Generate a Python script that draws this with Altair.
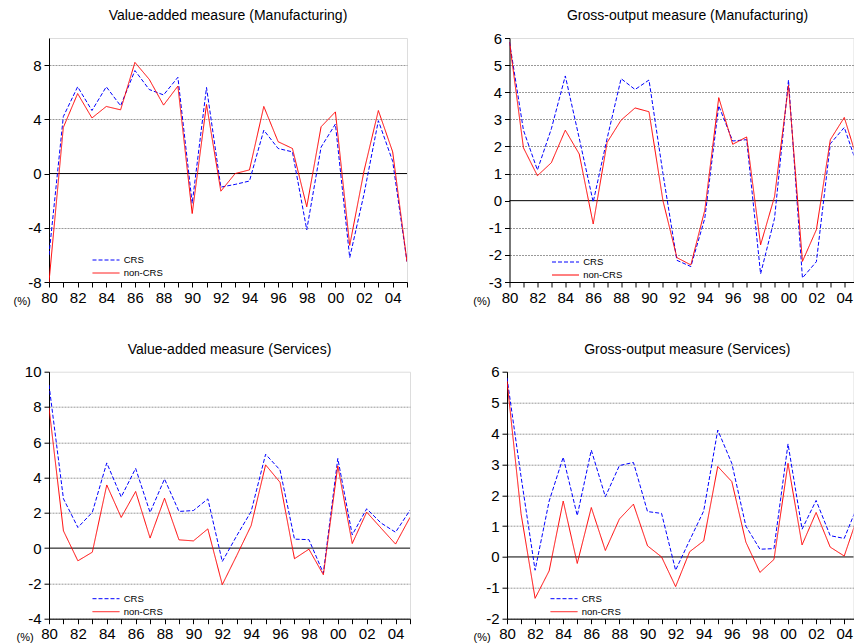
import altair as alt
import pandas as pd

# ---------------- data ----------------
years = list(range(1980, 2006))
series_names = ["CRS", "non-CRS"]

# Value-added measure (Manufacturing)
va_mfg_crs = [-6.0, 4.2, 6.4, 4.65, 6.4, 5.0, 7.6, 6.2, 5.8, 7.1, -2.2, 6.35, -1.0,
              -0.8, -0.55, 3.2, 1.85, 1.6, -4.15, 1.95, 3.65, -6.2, -1.5, 3.9, 0.9, -6.5]
va_mfg_non = [-8.0, 3.4, 5.9, 4.1, 4.95, 4.7, 8.2, 6.95, 5.05, 6.45, -2.95, 5.1, -1.3,
              0.0, 0.27, 4.95, 2.35, 1.85, -2.45, 3.45, 4.55, -5.3, 0.2, 4.65, 1.6, -6.5]

# Gross-output measure (Manufacturing)
go_mfg_crs = [5.85, 2.6, 1.13, 2.65, 4.6, 2.3, -0.05, 2.3, 4.5, 4.1, 4.45, 1.0, -2.2,
              -2.43, -0.65, 3.5, 2.2, 2.25, -2.7, -0.65, 4.45, -2.85, -2.25, 2.1, 2.7, 1.2]
go_mfg_non = [5.85, 1.95, 0.92, 1.4, 2.6, 1.72, -0.86, 2.15, 2.97, 3.42, 3.28, 0.0, -2.1,
              -2.37, -0.35, 3.8, 2.08, 2.35, -1.63, 0.15, 4.25, -2.24, -1.07, 2.25, 3.07, 1.4]

# Value-added measure (Services)
va_svc_crs = [9.25, 2.8, 1.17, 2.03, 4.83, 2.9, 4.52, 2.02, 3.92, 2.08, 2.13, 2.79, -0.76,
              0.7, 2.08, 5.32, 4.43, 0.51, 0.48, -1.42, 5.08, 0.75, 2.23, 1.42, 0.9, 2.15]
va_svc_non = [7.96, 0.98, -0.72, -0.23, 3.58, 1.74, 3.21, 0.57, 2.83, 0.47, 0.41, 1.09, -2.07,
              -0.42, 1.28, 4.72, 3.73, -0.6, -0.06, -1.51, 4.66, 0.26, 2.04, 1.13, 0.23, 1.74]

# Gross-output measure (Services)
go_svc_crs = [5.8, 2.6, -0.43, 1.81, 3.23, 1.34, 3.46, 1.95, 2.96, 3.06, 1.47, 1.41, -0.43,
              0.54, 1.49, 4.11, 3.03, 1.0, 0.25, 0.27, 3.66, 0.9, 1.83, 0.69, 0.6, 1.72]
go_svc_non = [5.7, 1.4, -1.34, -0.45, 1.81, -0.21, 1.6, 0.21, 1.23, 1.71, 0.36, 0.0, -0.96,
              0.17, 0.52, 2.93, 2.44, 0.48, -0.5, -0.08, 3.03, 0.39, 1.44, 0.32, 0.03, 1.37]

# axis tick values
yticks_va_mfg = [-8, -4, 0, 4, 8]
yticks_go_mfg = [-3, -2, -1, 0, 1, 2, 3, 4, 5, 6]
yticks_va_svc = [-4, -2, 0, 2, 4, 6, 8, 10]
yticks_go_svc = [-2, -1, 0, 1, 2, 3, 4, 5, 6]

FONT = "Liberation Sans"
colors = ["#0000ff", "#ff0000"]
dashes = [[4, 2], [1, 0]]


def make_df(crs, non):
    rows = []
    for yr, a, b in zip(years, crs, non):
        rows.append({"year": yr, "series": "CRS", "value": a})
        rows.append({"year": yr, "series": "non-CRS", "value": b})
    return pd.DataFrame(rows)


def panel(title, crs, non, ydomain, yticks, width, height, xmax,
          title_offset, pct_x, legend_x, legend_y, title_dx=0):
    df = make_df(crs, non)
    xvals = [yr for yr in years if yr <= xmax]
    top = ydomain[1]
    xenc = alt.X(
        "year:Q",
        scale=alt.Scale(domain=[1980, xmax], nice=False, zero=False),
        axis=alt.Axis(
            values=xvals,
            labelExpr="datum.value % 2 == 0 ? substring(toString(datum.value), 2, 4) : ''",
            title=None, grid=False, tickSize=5, labelPadding=3, labelFontSize=15,
            labelOverlap=False, labelFlush=False, domainColor="black",
            tickColor="black", labelColor="black", labelFont=FONT,
        ),
    )
    yenc = alt.Y(
        "value:Q",
        scale=alt.Scale(domain=ydomain, nice=False, zero=False),
        axis=alt.Axis(
            values=yticks, labelExpr="toString(datum.value)",
            title="(%)", titleAngle=0, titleX=pct_x, titleY=height + 19,
            titleAlign="left", titleBaseline="middle", titleFontSize=11,
            titleFontWeight="normal", titleFont=FONT, titleColor="black",
            grid=True, gridColor="#999999", gridDash=[2, 1],
            gridOpacity={"condition": {"test": f"datum.value == 0 || datum.value >= {top}",
                                       "value": 0}, "value": 1},
            tickSize=5, labelPadding=3, labelFontSize=15, labelFont=FONT,
            labelColor="black", domainColor="black", tickColor="black",
            labelOverlap=False,
        ),
    )
    leg = alt.Legend(
        title=None, orient="none", legendX=legend_x + 9, legendY=legend_y,
        symbolType="M-3,0H3", symbolSize=81, symbolStrokeWidth=1,
        labelFontSize=9.5, labelFont=FONT, labelColor="black", labelOffset=12.7,
        padding=0, rowPadding=3,
    )
    zero = alt.Chart(pd.DataFrame({"value": [0]})).mark_rule(
        color="black", strokeWidth=1).encode(y=yenc)
    lines = alt.Chart(df).mark_line(strokeWidth=1, clip=True).encode(
        x=xenc, y=yenc,
        color=alt.Color("series:N", scale=alt.Scale(domain=series_names, range=colors),
                        legend=leg),
        strokeDash=alt.StrokeDash("series:N",
                                  scale=alt.Scale(domain=series_names, range=dashes),
                                  legend=leg),
    )
    return alt.layer(zero, lines).properties(
        width=width, height=height,
        title=alt.Title(title, fontSize=14, fontWeight="normal", font=FONT, color="black",
                        offset=title_offset, frame="group", baseline="alphabetic",
                        dx=title_dx),
    )


p1 = panel("Value-added measure (Manufacturing)", va_mfg_crs, va_mfg_non,
           [-8, 10], yticks_va_mfg, 358, 244, 2005, 4.4, -36, 43, 217)
p2 = panel("Gross-output measure (Manufacturing)", go_mfg_crs, go_mfg_non,
           [-3, 6], yticks_go_mfg, 344, 244, 2004.66, -3.1, -36.7, 42, 219, 6)
p3 = panel("Value-added measure (Services)", va_svc_crs, va_svc_non,
           [-4, 10], yticks_va_svc, 361, 247, 2005, -3.4, -33, 43, 222)
p4 = panel("Gross-output measure (Services)", go_svc_crs, go_svc_non,
           [-2, 6], yticks_go_svc, 346.5, 247, 2004.66, -3.4, -34, 43, 222, 7)

row1 = alt.hconcat(p1, p2, spacing=63.5).resolve_scale(
    color="independent", strokeDash="independent").resolve_legend(
    color="independent", strokeDash="independent")
row2 = alt.hconcat(p3, p4, spacing=61).resolve_scale(
    color="independent", strokeDash="independent").resolve_legend(
    color="independent", strokeDash="independent")

chart = alt.vconcat(row1, row2, spacing=34.7).resolve_scale(
    color="independent", strokeDash="independent").resolve_legend(
    color="independent", strokeDash="independent").properties(
    padding={"left": 4, "top": 0, "right": -1, "bottom": 0}
).configure_view(stroke=None).configure(background="white")

chart.save("out.html", embed_options={"renderer": "svg", "actions": False})
